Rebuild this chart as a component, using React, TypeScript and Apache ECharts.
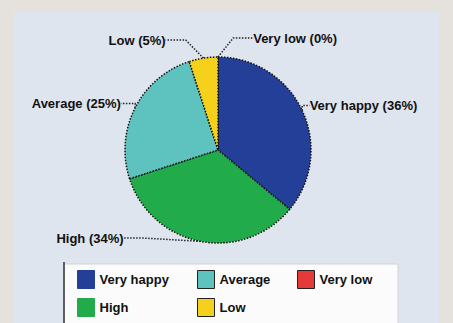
import React, { useEffect, useRef } from "react";
import * as echarts from "echarts";

const categories = ["Very low", "Very happy", "High", "Average", "Low"];
const values = [0, 36, 34, 25, 5];
const colors = ["#e5393a", "#233f98", "#22ab4b", "#5ec3be", "#f6d11c"];
const legendColumns = [["Very happy", "High"], ["Average", "Low"], ["Very low"]];
// label nudges (px) relative to ECharts' default outside placement
const labelDx = [144, -32, -49, 20, 23];
const labelDy = [-3, 2, -19, 3, -16];

export default function App() {
  const ref = useRef<HTMLDivElement>(null);
  useEffect(() => {
    if (!ref.current) return;
    const chart = echarts.init(ref.current, null, { renderer: "svg" });
    const data = categories.map((c, i) => ({
      name: c,
      value: values[i],
      itemStyle: { color: colors[i] },
    }));
    const textStyle = { fontFamily: "Liberation Sans", fontSize: 13, fontWeight: "bold" as const, color: "#111" };
    const legendLeft = [77, 197, 297];
    chart.setOption({
      animation: false,
      backgroundColor: "#e5e1dc",
      graphic: [
        { type: "rect", shape: { x: 14, y: 11, width: 425, height: 320 }, style: { fill: "#dfe5ef" }, z: -10 },
        { type: "rect", shape: { x: 64, y: 264, width: 334, height: 60 }, style: { fill: "#fbfbfc", stroke: "#d0d3d8", lineWidth: 1 }, z: -5 },
        { type: "line", shape: { x1: 64, y1: 262, x2: 64, y2: 323 }, style: { stroke: "#333", lineWidth: 1.5 }, z: -4 },
      ],
      legend: legendColumns.map((col, ci) => ({
        id: "lg" + ci,
        data: col.map((n) => ({
          name: n,
          itemStyle: {
            color: colors[categories.indexOf(n)],
            borderColor: ci === 0 ? colors[categories.indexOf(n)] : "#222",
            borderWidth: 1,
          },
        })),
        orient: "vertical",
        left: legendLeft[ci],
        top: 270,
        padding: 0,
        itemWidth: 17,
        itemHeight: 18,
        itemGap: 9,
        icon: "rect",
        selectedMode: false,
        textStyle,
      })),
      series: [
        {
          type: "pie",
          center: [218, 150],
          radius: 93,
          startAngle: 90,
          clockwise: true,
          data,
          itemStyle: { borderColor: "#111", borderWidth: 1.5, borderType: "dotted" },
          label: {
            show: true,
            overflow: "none",
            formatter: (p: any) => `${p.name} (${p.value}%)`,
            ...textStyle,
          },
          labelLine: {
            show: true,
            length: 16,
            length2: 20,
            lineStyle: { color: "#222", width: 1.5, type: "dotted" },
          },
          labelLayout: (p: any) => {
            const r = p.labelRect;
            const ax = p.align === "right" ? r.x + r.width : p.align === "center" ? r.x + r.width / 2 : r.x;
            return {
              x: ax + labelDx[p.dataIndex],
              y: r.y + r.height / 2 + labelDy[p.dataIndex],
              align: p.align,
              verticalAlign: "middle",
            };
          },
          emphasis: { disabled: true },
        },
      ],
    });
    return () => chart.dispose();
  }, []);
  return (
    <div
      ref={ref}
      style={{ position: "fixed", left: 0, top: 0, width: 453, height: 323 }}
    />
  );
}
